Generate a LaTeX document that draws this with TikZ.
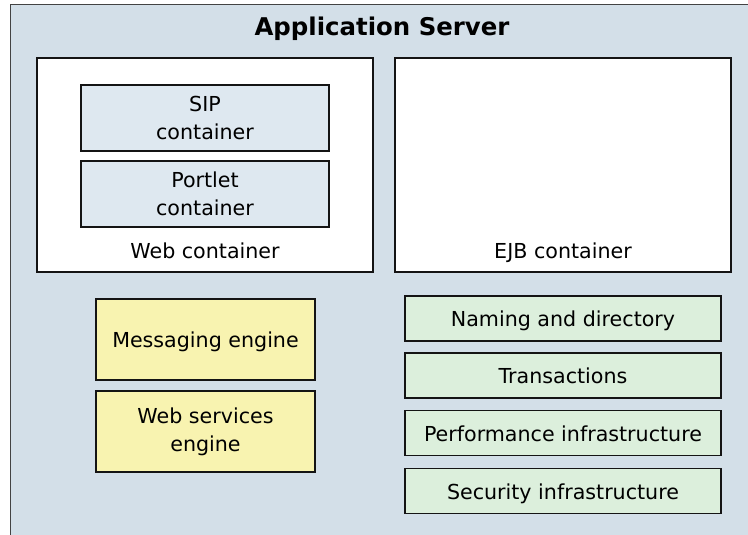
\documentclass[tikz,border=0pt]{standalone}
\usepackage{fontspec}
\setmainfont{DejaVu Sans}
\definecolor{outerfill}{RGB}{211,223,232}
\definecolor{innerblue}{RGB}{222,232,240}
\definecolor{yellowfill}{RGB}{248,243,176}
\definecolor{greenfill}{RGB}{220,239,220}
\definecolor{edge}{RGB}{20,20,20}
\begin{document}
\begin{tikzpicture}[x=1bp,y=-1bp,
  txt/.style={font=\fontsize{20.7}{28}\selectfont, align=center, text=black},
  oneline/.style={text height=18bp, text depth=2bp},
  box/.style={draw=edge, line width=1.6bp, inner sep=0pt, txt},
  container/.style={box, fill=white, minimum width=336bp, minimum height=214bp},
  subbox/.style={box, fill=innerblue, minimum width=248.5bp, minimum height=65.5bp},
  engine/.style={box, fill=yellowfill, minimum width=219bp, minimum height=81bp},
  service/.style={box, oneline, fill=greenfill, minimum width=315.5bp, minimum height=45bp},
  title/.style={font=\fontsize{24.5}{28}\bfseries\selectfont, text=black, inner sep=0pt}
]
\useasboundingbox (0,0) rectangle (748,535);
\begin{scope}
\clip (0,0) rectangle (748,535);
\draw[draw=edge!80, line width=1.5bp, fill=outerfill] (10.5,4.5) rectangle (770,560);
\end{scope}
\node[title] (appserver) at (382,29) {Application Server};

\node[container] (web) at (205,165) {};
\node[subbox] (sip) at (205,118) {SIP\\container};
\node[subbox] (portlet) at (205,194) {Portlet\\container};
\node[txt, inner sep=0pt, anchor=base] (weblabel) at (205,259) {Web container};

\node[container] (ejb) at (563,165) {};
\node[txt, inner sep=0pt, anchor=base] (ejblabel) at (563,259) {EJB container};

\node[engine, oneline] (msg) at (205.5,339.5) {Messaging engine};
\node[engine] (wsengine) at (205.5,431.5) {Web services\\engine};

\node[service] (naming) at (563,318.5) {Naming and directory};
\node[service] (trans) at (563,375.5) {Transactions};
\node[service] (perf) at (563,433) {Performance infrastructure};
\node[service] (sec) at (563,491) {Security infrastructure};
\end{tikzpicture}
\end{document}
